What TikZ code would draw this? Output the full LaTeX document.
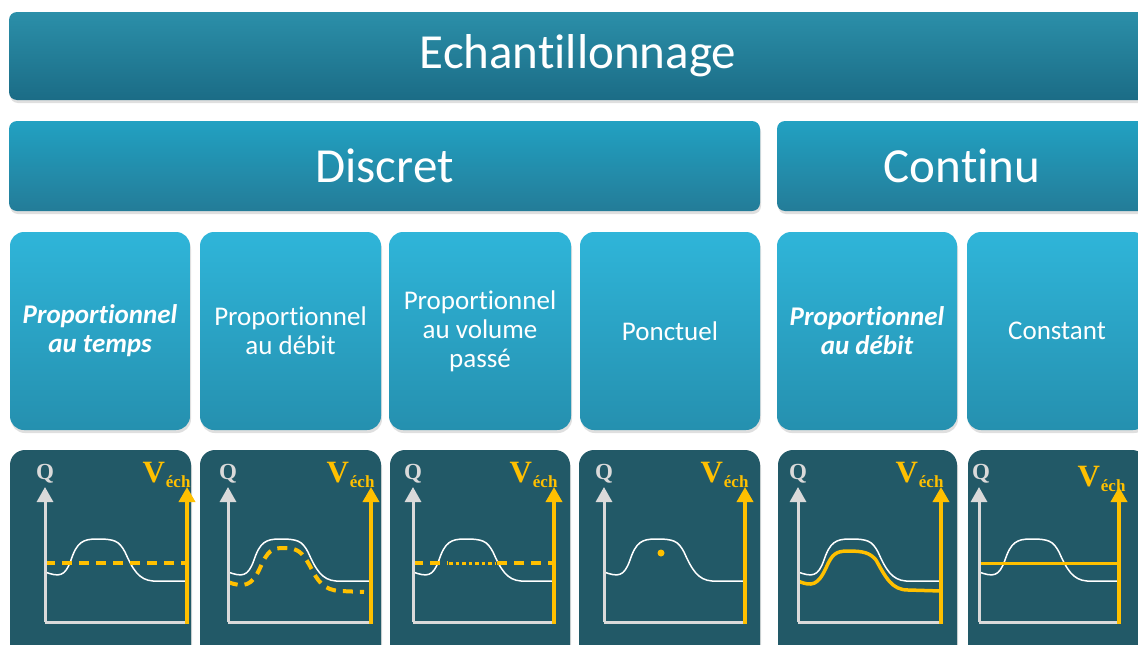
\documentclass[tikz,border=0pt]{standalone}
\usepackage{fontspec}
\setmainfont{Carlito}[Ligatures=CommonOff]
\newfontfamily\labfont{Liberation Serif}
\usetikzlibrary{arrows.meta,shadows}
\definecolor{onet}{HTML}{2B8FA9}
\definecolor{oneb}{HTML}{1B6C86}
\definecolor{twot}{HTML}{22A1C2}
\definecolor{twob}{HTML}{237C98}
\definecolor{thrt}{HTML}{2FB5D9}
\definecolor{thrb}{HTML}{2590AF}
\definecolor{chartbg}{HTML}{225967}
\definecolor{gold}{HTML}{FFC000}
\definecolor{axgrey}{HTML}{DADADA}
\tikzset{
  shad/.style={drop shadow={opacity=0.25,shadow xshift=1pt,shadow yshift=-3pt}},
  barA/.style={shad,rounded corners=8pt,top color=onet,bottom color=oneb,draw=none,text=white,inner sep=0pt,font=\fontsize{49}{52}\selectfont},
  barB/.style={shad,rounded corners=8pt,top color=twot,bottom color=twob,draw=none,text=white,inner sep=0pt,font=\fontsize{49}{52}\selectfont},
  catbox/.style={shad,rounded corners=14pt,top color=thrt,bottom color=thrb,draw=none,text=white,inner sep=0pt,align=center,minimum height=198pt,font=\fontsize{27}{29}\selectfont},
  chartbox/.style={shad,rounded corners=15pt,fill=chartbg,draw=none,inner sep=0pt,minimum height=220pt},
  qaxis/.style={axgrey,line width=3pt,-{Triangle[width=16pt,length=15pt]}},
  vaxis/.style={gold,line width=3.5pt,-{Triangle[width=16pt,length=15pt]}},
  baseax/.style={axgrey,line width=3pt},
  flow/.style={white,line width=1.5pt},
  qlab/.style={axgrey,anchor=base,font=\labfont\bfseries\fontsize{23}{23}\selectfont},
  vlab/.style={gold,anchor=base east,font=\labfont\bfseries\fontsize{31}{31}\selectfont},
  golddash/.style={gold,line width=4pt,dash pattern=on 10pt off 7pt},
}
\newcommand{\vech}{V\hspace{1pt}\raisebox{-5pt}{\fontsize{17}{17}\selectfont éch}}
\newcommand{\flowcurve}{(0,572) .. controls (14,577) and (20,577) .. (26,560) .. controls (32,542) and (38,539) .. (52,539) .. controls (70,539) and (74,541) .. (80,552) .. controls (88,570) and (94,580) .. (108,581) -- (141,581)}
\begin{document}
\begin{tikzpicture}[x=1pt,y=-1pt]
\useasboundingbox (0,0) rectangle (1138,645);
\clip (0,0) rectangle (1138,645);
\fill[white] (0,0) rectangle (1138,645);
% level 1
\node[barA,minimum width=1138pt,minimum height=88pt] (ech) at (578,56) {Echantillonnage};
% level 2
\node[barB,minimum width=751pt,minimum height=90pt] (disc) at (384.5,166) {Discret};
\node[barB,minimum width=370pt,minimum height=90pt] (cont) at (962,166) {Continu};
% level 3
\node[catbox,minimum width=180pt] (c1) at (100,331) {\bfseries\itshape Proportionnel\\\bfseries\itshape au temps};
\node[catbox,minimum width=181pt] (c2) at (290.5,331) {Proportionnel\\au débit};
\node[catbox,minimum width=182pt] (c3) at (480,331) {Proportionnel\\au volume\\passé};
\node[catbox,minimum width=180pt] (c4) at (670,331) {Ponctuel};
\node[catbox,minimum width=180pt] (c5) at (867,331) {\bfseries\itshape Proportionnel\\\bfseries\itshape au débit};
\node[catbox,minimum width=180pt] (c6) at (1057,331) {Constant};
% charts background
\node[chartbox,minimum width=181pt] (g1) at (100.5,560) {};
\node[chartbox,minimum width=181pt] (g2) at (290.5,560) {};
\node[chartbox,minimum width=180pt] (g3) at (480,560) {};
\node[chartbox,minimum width=181pt] (g4) at (669.5,560) {};
\node[chartbox,minimum width=179pt] (g5) at (867.5,560) {};
\node[chartbox,minimum width=179pt] (g6) at (1057.5,560) {};
% chart 1
\begin{scope}[shift={(45,0)}]
  \draw[flow] \flowcurve;
  \draw[golddash] (0,563) -- (142,563);
  \draw[baseax] (0,622) -- (142,622);
  \draw[qaxis] (0,622) -- (0,487);
  \draw[vaxis] (142,623.5) -- (142,487);
  \node[qlab] (q1) at (0,479) {Q};
  \node[vlab] (v1) at (149,482) {\vech};
\end{scope}
% chart 2
\begin{scope}[shift={(228,0)}]
  \draw[flow] \flowcurve;
  \draw[golddash] (0,582) .. controls (16,588) and (24,586) .. (32,568) .. controls (40,550) and (44,548) .. (56,548) .. controls (70,548) and (74,552) .. (82,566) .. controls (90,582) and (96,590) .. (112,591) -- (136,592);
  \draw[baseax] (0,622) -- (143,622);
  \draw[qaxis] (0,622) -- (0,487);
  \draw[vaxis] (143,623.5) -- (143,487);
  \node[qlab] (q2) at (0,479) {Q};
  \node[vlab] (v2) at (150,482) {\vech};
\end{scope}
% chart 3
\begin{scope}[shift={(413,0)}]
  \draw[flow] \flowcurve;
  \draw[golddash] (0,563) -- (35,563);
  \draw[gold,line width=3pt,dash pattern=on 3.5pt off 3pt] (36,563) -- (82,563);
  \draw[golddash] (84,563) -- (141,563);
  \draw[baseax] (0,622) -- (141,622);
  \draw[qaxis] (0,622) -- (0,487);
  \draw[vaxis] (141,623.5) -- (141,487);
  \node[qlab] (q3) at (0,479) {Q};
  \node[vlab] (v3) at (148,482) {\vech};
\end{scope}
% chart 4
\begin{scope}[shift={(604,0)}]
  \draw[flow] \flowcurve;
  \fill[gold] (57,553) circle (3.5);
  \draw[baseax] (0,622) -- (141,622);
  \draw[qaxis] (0,622) -- (0,487);
  \draw[vaxis] (141,623.5) -- (141,487);
  \node[qlab] (q4) at (0,479) {Q};
  \node[vlab] (v4) at (148,482) {\vech};
\end{scope}
% chart 5
\begin{scope}[shift={(798,0)}]
  \draw[flow] \flowcurve;
  \draw[gold,line width=3.5pt] (0,581) .. controls (14,587) and (20,585) .. (28,568) .. controls (34,554) and (38,551) .. (50,551) .. controls (66,551) and (72,553) .. (78,560) .. controls (88,578) and (94,590) .. (110,590) -- (143,591);
  \draw[baseax] (0,622) -- (143,622);
  \draw[qaxis] (0,622) -- (0,487);
  \draw[vaxis] (143,623.5) -- (143,487);
  \node[qlab] (q5) at (0,479) {Q};
  \node[vlab] (v5) at (149,482) {\vech};
\end{scope}
% chart 6
\begin{scope}[shift={(979,0)}]
  \draw[flow] \flowcurve;
  \draw[gold,line width=3pt] (0,563) -- (140,563);
  \draw[baseax] (0,622) -- (140,622);
  \draw[qaxis] (0,622) -- (0,487);
  \draw[vaxis] (140,623.5) -- (140,487);
  \node[qlab] (q6) at (2,479) {Q};
  \node[vlab] (v6) at (150,486) {\vech};
\end{scope}
\end{tikzpicture}
\end{document}
